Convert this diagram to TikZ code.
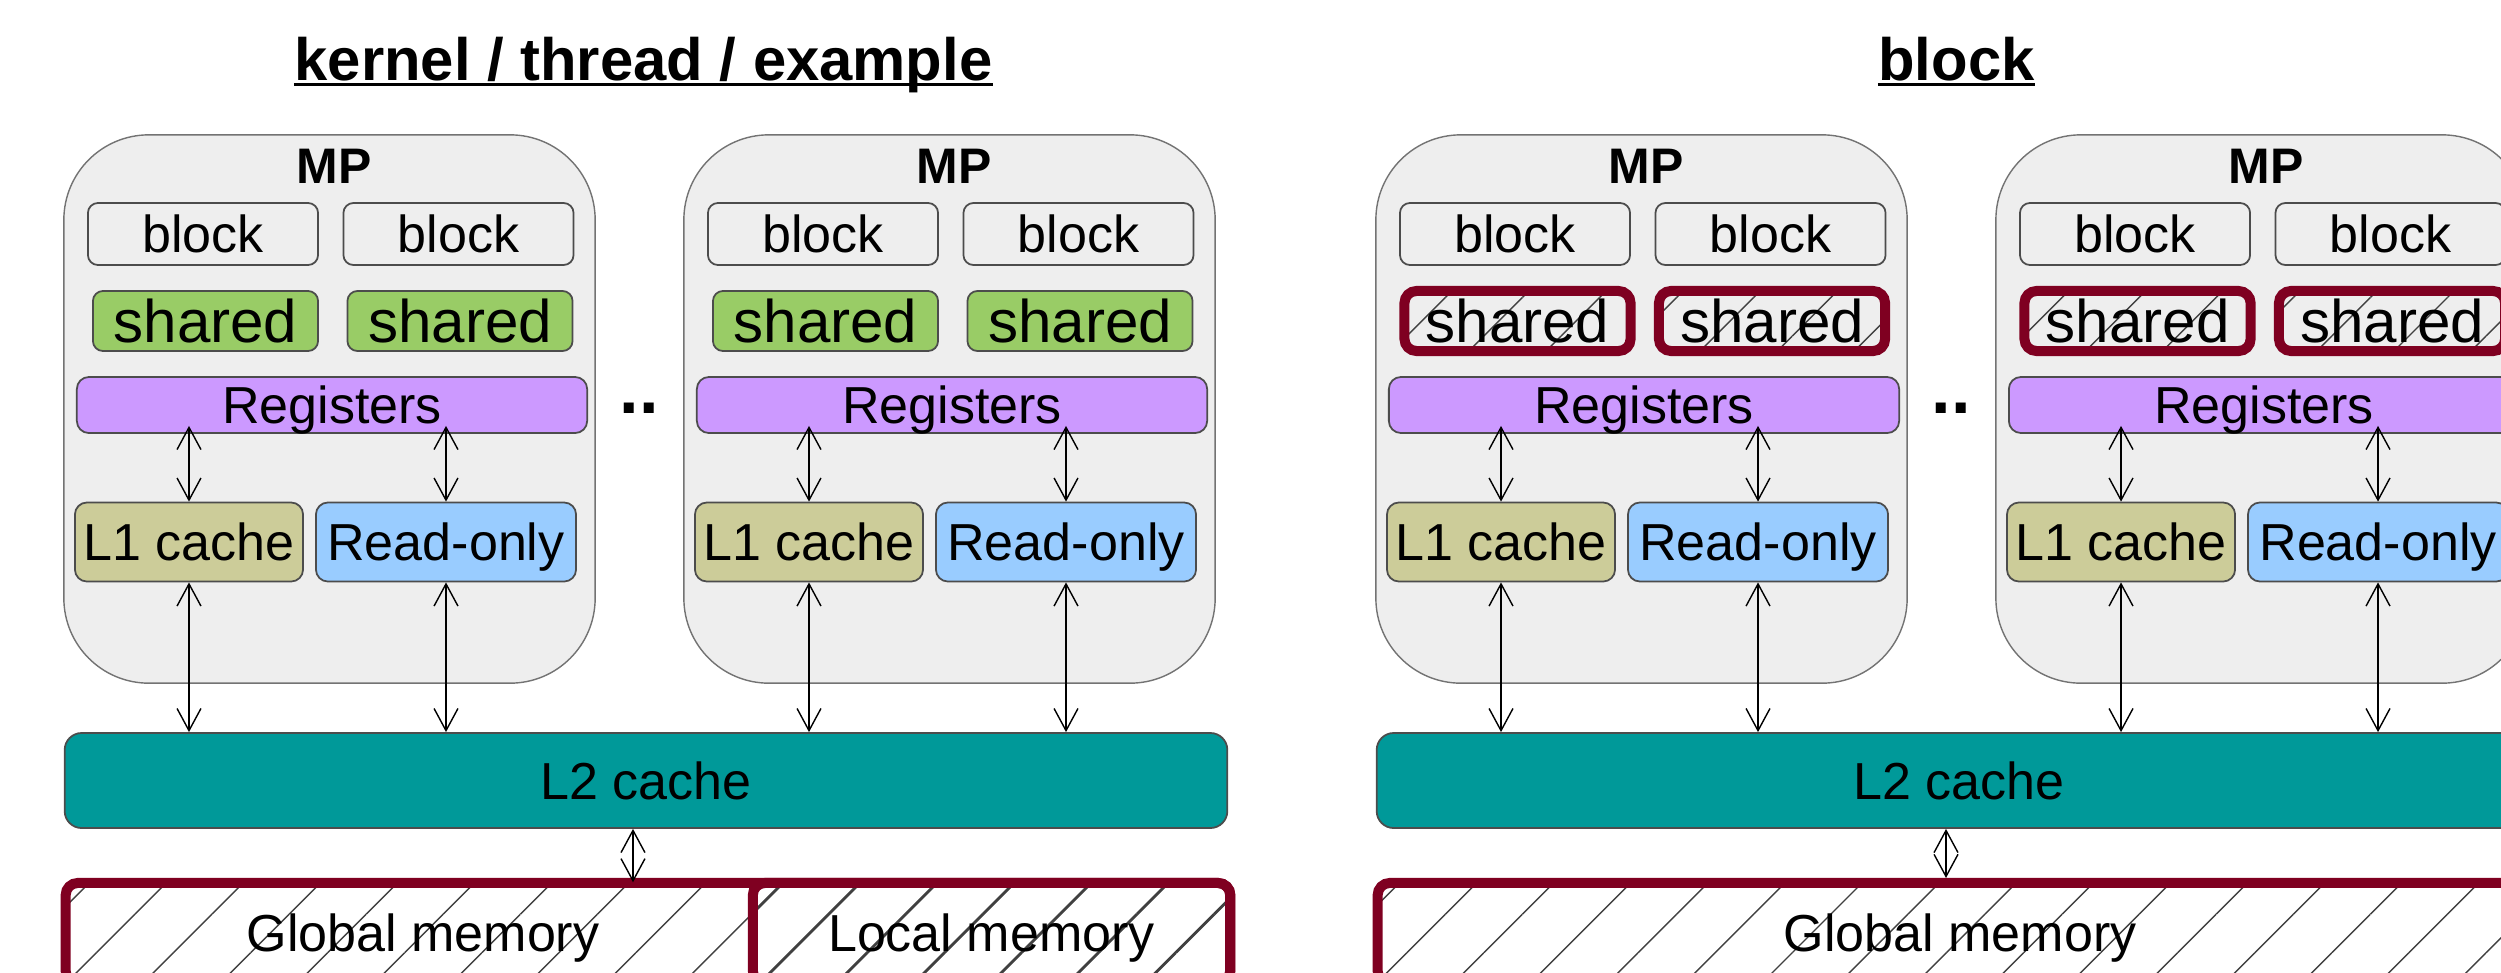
\documentclass[tikz,border=0pt]{standalone}
\usepackage{fontspec}
\setmainfont{Liberation Sans}
\usetikzlibrary{arrows.meta,patterns.meta}
\definecolor{mpgray}{HTML}{EEEEEE}
\definecolor{shrgreen}{HTML}{99CC66}
\definecolor{regpurple}{HTML}{CC99FF}
\definecolor{lonekhaki}{HTML}{CCCC99}
\definecolor{roblue}{HTML}{99CCFF}
\definecolor{ltwoteal}{HTML}{009999}
\definecolor{memred}{HTML}{7F0021}
\newcommand{\txtsize}{\fontsize{14.8}{17}\selectfont}
\newcommand{\shrsize}{\fontsize{17.1}{20}\selectfont}
\newcommand{\mpsize}{\fontsize{14.2}{17}\selectfont\bfseries}
\newcommand{\ttlsize}{\fontsize{17}{20}\selectfont\bfseries}
\newcommand{\dotsize}{\fontsize{20}{24}\selectfont\bfseries}

\begin{document}
\begin{tikzpicture}[x = 0.01cm, y = -0.01cm,
        cell/.style = {draw = black!70, line width = 0.5pt, rounded corners = 0.1cm, inner sep = 0pt, text depth = 0pt, font = \txtsize},
        mpbox/.style = {draw = black!55, fill = mpgray, line width = 0.4pt, rounded corners = 0.85cm, minimum width = 5.31cm, minimum height = 5.48cm},
        blkbox/.style = {cell, minimum width = 2.3cm, minimum height = 0.62cm},
        shrbox/.style = {cell, fill = shrgreen, minimum width = 2.25cm, minimum height = 0.6cm, font = \shrsize},
        shrhatch/.style = {cell, draw = memred, line width = 0.1cm, rounded corners = 0.12cm, pattern = {Lines[angle = 45, distance = 15.5pt, line width = 0.4pt]}, pattern color = black!75, minimum width = 2.26cm, minimum height = 0.6cm, font = \shrsize},
        regbox/.style = {cell, fill = regpurple, minimum width = 5.1cm, minimum height = 0.56cm, rounded corners = 0.12cm},
        lonebox/.style = {cell, fill = lonekhaki, minimum width = 2.28cm, minimum height = 0.79cm, rounded corners = 0.12cm},
        robox/.style = {cell, fill = roblue, minimum width = 2.6cm, minimum height = 0.79cm, rounded corners = 0.12cm},
        ltwobox/.style = {cell, fill = ltwoteal, minimum height = 0.95cm, rounded corners = 0.17cm},
        membox/.style = {cell, draw = memred, line width = 0.1cm, rounded corners = 0.12cm, pattern = {Lines[angle = 45, distance = 15.5pt, line width = 0.4pt]}, pattern color = black!75, minimum height = 1cm},
        lbl/.style = {anchor = base, inner sep = 0pt},
        dbl/.style = {{Straight Barb[length = 6.3pt, width = 6.8pt]}-{Straight Barb[length = 6.3pt, width = 6.8pt]}, line width = 0.4pt}]
    \useasboundingbox (0, 0) rectangle (2501, 972);
    \clip (0, 0) rectangle (2501, 972);

    \node[lbl, font = \ttlsize] (ttlA) at (643.5, 80) {kernel / thread / example};
    \draw[line width = 0.85pt] ([yshift = -0.045cm]ttlA.base west) -- ([yshift = -0.045cm]ttlA.base east);
    \node[lbl, font = \ttlsize] (ttlB) at (1956.5, 80) {block};
    \draw[line width = 0.85pt] ([yshift = -0.045cm]ttlB.base west) -- ([yshift = -0.045cm]ttlB.base east);

    \node[mpbox] (mpA) at (329.5, 409) {};
    \node[lbl, font = \mpsize] (mpAt) at (334, 183) {MP};
    \node[blkbox] (blkAa) at (203, 234) {block};
    \node[blkbox] (blkAb) at (458.5, 234) {block};
    \node[shrbox] (shrAa) at (205.5, 321) {shared};
    \node[shrbox] (shrAb) at (460, 321) {shared};
    \node[regbox] (regA) at (332, 405) {Registers};
    \node[lonebox] (lA) at (189, 542) {L1 cache};
    \node[robox] (roA) at (446, 542) {Read-only};

    \node[lbl, font = \dotsize] (dotsA) at (639, 413) {..};

    \node[mpbox] (mpB) at (949.5, 409) {};
    \node[lbl, font = \mpsize] (mpBt) at (954, 183) {MP};
    \node[blkbox] (blkBa) at (823, 234) {block};
    \node[blkbox] (blkBb) at (1078.5, 234) {block};
    \node[shrbox] (shrBa) at (825.5, 321) {shared};
    \node[shrbox] (shrBb) at (1080, 321) {shared};
    \node[regbox] (regB) at (952, 405) {Registers};
    \node[lonebox] (lB) at (809, 542) {L1 cache};
    \node[robox] (roB) at (1066, 542) {Read-only};

    \node[ltwobox, minimum width = 11.62cm] (ltwoA) at (646, 780.5) {L2 cache};
    \node[membox, minimum width = 11.64cm] (gmA) at (648, 933) {};
    \node[lbl, font = \txtsize] (gmAt) at (423, 951) {Global memory};
    \node[membox, minimum width = 4.77cm, pattern = {Lines[angle = 45, distance = 15.5pt, line width = 0.8pt]}] (lmA) at (991.5, 933) {Local memory};

    \node[mpbox] (mpC) at (1641.5, 409) {};
    \node[lbl, font = \mpsize] (mpCt) at (1646, 183) {MP};
    \node[blkbox] (blkCa) at (1515, 234) {block};
    \node[blkbox] (blkCb) at (1770.5, 234) {block};
    \node[shrhatch] (shrCa) at (1517.5, 321) {shared};
    \node[shrhatch] (shrCb) at (1772, 321) {shared};
    \node[regbox] (regC) at (1644, 405) {Registers};
    \node[lonebox] (lC) at (1501, 542) {L1 cache};
    \node[robox] (roC) at (1758, 542) {Read-only};

    \node[lbl, font = \dotsize] (dotsB) at (1951.5, 413) {..};

    \node[mpbox] (mpD) at (2261.5, 409) {};
    \node[lbl, font = \mpsize] (mpDt) at (2266, 183) {MP};
    \node[blkbox] (blkDa) at (2135, 234) {block};
    \node[blkbox] (blkDb) at (2390.5, 234) {block};
    \node[shrhatch] (shrDa) at (2137.5, 321) {shared};
    \node[shrhatch] (shrDb) at (2392, 321) {shared};
    \node[regbox] (regD) at (2264, 405) {Registers};
    \node[lonebox] (lD) at (2121, 542) {L1 cache};
    \node[robox] (roD) at (2378, 542) {Read-only};

    \node[ltwobox, minimum width = 11.64cm] (ltwoB) at (1959, 780.5) {L2 cache};
    \node[membox, minimum width = 11.64cm] (gmB) at (1960, 933) {Global memory};

    \draw[dbl, shorten >= -0.08cm] (lA.north) -- (lA.north |- regA.south);
    \draw[dbl, shorten >= -0.08cm] (roA.north) -- (roA.north |- regA.south);
    \draw[dbl] (lA.south) -- (lA.south |- ltwoA.north);
    \draw[dbl] (roA.south) -- (roA.south |- ltwoA.north);
    \draw[dbl, shorten >= -0.08cm] (lB.north) -- (lB.north |- regB.south);
    \draw[dbl, shorten >= -0.08cm] (roB.north) -- (roB.north |- regB.south);
    \draw[dbl] (lB.south) -- (lB.south |- ltwoA.north);
    \draw[dbl] (roB.south) -- (roB.south |- ltwoA.north);
    \draw[dbl] ([xshift = -0.13cm]ltwoA.south) -- ([xshift = -0.13cm]ltwoA.south |- gmA.north);

    \draw[dbl, shorten >= -0.08cm] (lC.north) -- (lC.north |- regC.south);
    \draw[dbl, shorten >= -0.08cm] (roC.north) -- (roC.north |- regC.south);
    \draw[dbl] (lC.south) -- (lC.south |- ltwoB.north);
    \draw[dbl] (roC.south) -- (roC.south |- ltwoB.north);
    \draw[dbl, shorten >= -0.08cm] (lD.north) -- (lD.north |- regD.south);
    \draw[dbl, shorten >= -0.08cm] (roD.north) -- (roD.north |- regD.south);
    \draw[dbl] (lD.south) -- (lD.south |- ltwoB.north);
    \draw[dbl] (roD.south) -- (roD.south |- ltwoB.north);
    \draw[dbl] ([xshift = -0.13cm]ltwoB.south) -- ([xshift = -0.13cm]ltwoB.south |- gmB.north);
\end{tikzpicture}
\end{document}
